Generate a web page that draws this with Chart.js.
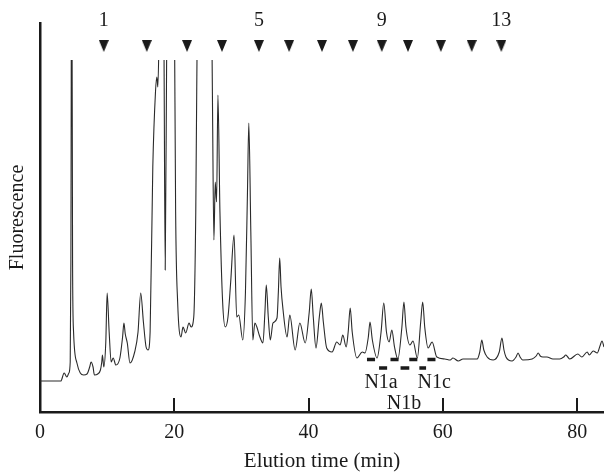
<!DOCTYPE html>
<html>
<head>
<meta charset="utf-8">
<script src="https://cdn.jsdelivr.net/npm/chart.js@4"></script>
<style>
  html, body { margin: 0; padding: 0; background: #fff; }
</style>
</head>
<body>
<canvas id="myChart" width="604" height="475"></canvas>
<script>
// chromatogram trace (time in min, fluorescence in arbitrary units)
var elutionMin = [
  0, 3.1, 3.6, 4.0, 4.3, 4.5, 4.6, 4.72, 4.85, 5.0, 5.5, 6.0, 6.5, 7.0, 7.4, 7.6, 7.9, 8.1, 8.6, 9.0, 9.2, 9.3, 9.5,
  9.8, 10.0, 10.3, 10.6, 10.9, 11.3, 11.9, 12.3, 12.5, 12.7, 13.0, 13.4, 14.1, 14.6, 15.0, 15.4, 15.8, 16.1,
  16.4, 16.8, 17.2, 17.4, 17.55, 17.8, 18.1, 18.45, 18.65, 18.9, 19.5, 20.0, 20.2, 20.5, 21.0, 21.3, 21.7, 22.2, 22.5, 22.9, 23.2,
  23.5, 24.5, 25.5, 25.7, 25.9, 26.1, 26.3, 26.5, 26.8, 27.2, 27.6, 28.0, 28.4, 28.9, 29.3, 29.6, 30.2, 30.6, 30.9, 31.1,
  31.4, 31.7, 32.0, 32.3, 32.7, 33.2, 33.5, 33.7, 34.0, 34.3, 34.7, 35.3, 35.5, 35.7, 35.9, 36.2, 36.8, 37.2, 38.0, 38.7,
  39.5, 40.1, 40.4, 40.7, 41.1, 41.6, 41.9, 42.2, 42.7, 43.5, 44.2, 44.7, 45.1, 45.6, 45.9, 46.2,
  46.5, 47.2, 48.0, 48.4, 48.9, 49.15, 49.5, 50.2, 50.8, 51.2, 51.6, 52.0, 52.4, 52.8, 53.3, 53.9, 54.2, 54.5, 55.1, 55.55,
  56.2, 56.7, 57.0, 57.3, 57.8, 58.4, 59.1, 60.3,
  61.1, 61.5, 62.3, 63.0, 63.6, 65.1, 65.5, 65.8, 66.1, 66.6, 67.5, 68.4, 68.8, 69.1, 69.4, 70.3, 70.9, 71.2, 71.5, 71.9,
  73.3, 73.9, 74.2, 74.5, 74.9, 75.5, 76.4, 77.4, 78.0, 78.3, 78.6, 78.9, 80.1, 80.7, 81.5, 81.8, 82.4, 83.0, 83.4, 83.7, 84.0
];
var fluorescence = [
  31, 31, 39, 35, 39, 50, 150, 520, 150, 80, 49, 39, 37, 38, 45, 50, 45, 37, 38, 42, 50, 57, 45,
  70, 119, 80, 50, 54, 47, 54, 75, 89, 78, 69, 49, 60, 80, 119, 90, 65, 62,
  80, 245, 320, 335, 325, 400, 470, 380, 142, 400, 560, 420, 200, 110, 75, 85, 79, 89, 85, 95, 200,
  450, 620, 450, 300, 172, 230, 210, 317, 200, 110, 85, 95, 130, 177, 95, 97, 72, 120, 220, 289,
  180, 72, 89, 85, 76, 69, 100, 127, 95, 72, 89, 94, 120, 154, 125, 102, 75, 97, 62, 89,
  69, 100, 123, 95, 64, 95, 109, 90, 64, 60, 70, 67, 77, 65, 80, 104,
  80, 54, 60, 59, 75, 90, 72, 54, 80, 109, 80, 70, 82, 65, 53, 85, 110, 85, 67, 71,
  54, 90, 110, 85, 64, 70, 55, 53,
  52, 54, 51, 53, 53, 53, 60, 72, 62, 55, 52, 60, 74, 62, 55, 51, 55, 59, 55, 52,
  53, 56, 59, 56, 55, 55, 53, 53, 55, 57, 55, 53, 58, 55, 60, 57, 61, 59, 66, 71, 65
];

// fraction markers (triangles) along the top
var fractionMin = [9.5, 15.9, 21.9, 27.1, 32.6, 37.1, 42.0, 46.6, 50.9, 54.8, 59.7, 64.3, 68.7];
var fractionLabels = ['1', '', '', '', '5', '', '', '', '9', '', '', '', '13'];
var markerLevel = 366;

// N1a / N1b / N1c collection bars (start, end in min)
var upperBars = [[48.7, 49.9], [52.2, 53.4], [55.0, 56.2], [57.7, 58.9]];
var lowerBars = [[50.5, 51.7], [53.7, 55.0], [56.5, 57.5]];
var upperLevel = 52.5, lowerLevel = 44;
var peakNames = ['N1a', 'N1b', 'N1c'];
var peakNameMin = [50.8, 54.2, 58.7];
var peakNameLevel = [29, 8, 29];

var xTicks = [0, 20, 40, 60, 80];
var xMarks = [20, 40, 60, 80];

var serif = "'Liberation Serif', 'Times New Roman', serif";
var ink = '#1a1a1a';

function barData(bars, level) {
  var out = [];
  bars.forEach(function (b) {
    out.push({x: b[0], y: level}, {x: b[1], y: level}, {x: (b[0] + b[1]) / 2, y: null});
  });
  return out;
}

var tri = document.createElement('canvas');
tri.width = 10; tri.height = 12;
var tctx = tri.getContext('2d');
tctx.fillStyle = ink;
tctx.beginPath(); tctx.moveTo(0, 0); tctx.lineTo(10, 0); tctx.lineTo(5, 12); tctx.closePath(); tctx.fill();

var annotate = {
  id: 'annotate',
  afterDatasetsDraw: function (chart) {
    var ctx = chart.ctx, xs = chart.scales.x, ys = chart.scales.y;
    ctx.save();
    // inward tick marks
    ctx.strokeStyle = ink; ctx.lineWidth = 2;
    xMarks.forEach(function (v) {
      var px = Math.round(xs.getPixelForValue(v));
      ctx.beginPath(); ctx.moveTo(px, ys.bottom); ctx.lineTo(px, ys.bottom - 14); ctx.stroke();
    });
    ctx.fillStyle = ink;
    ctx.font = '20px ' + serif;
    ctx.textAlign = 'center'; ctx.textBaseline = 'middle';
    fractionLabels.forEach(function (t, i) {
      if (t) ctx.fillText(t, xs.getPixelForValue(fractionMin[i]), 21);
    });
    peakNames.forEach(function (t, i) {
      ctx.fillText(t, xs.getPixelForValue(peakNameMin[i]), ys.getPixelForValue(peakNameLevel[i]));
    });
    ctx.restore();
  }
};

var myChart = new Chart(document.getElementById('myChart').getContext('2d'), {
  type: 'line',
  data: {
    datasets: [{
      data: elutionMin.map(function (t, i) { return {x: t, y: fluorescence[i]}; }),
      borderColor: '#2a2a2a',
      borderWidth: 1.1,
      pointRadius: 0,
      cubicInterpolationMode: 'monotone',
      clip: {left: 0, top: -37, right: 0, bottom: 0}
    }, {
      data: fractionMin.map(function (t) { return {x: t, y: markerLevel}; }),
      showLine: false,
      pointStyle: tri,
      pointRadius: 6,
      clip: false
    }, {
      data: barData(upperBars, upperLevel),
      borderColor: ink, borderWidth: 3.5, pointRadius: 0, spanGaps: false
    }, {
      data: barData(lowerBars, lowerLevel),
      borderColor: ink, borderWidth: 3.5, pointRadius: 0, spanGaps: false
    }]
  },
  options: {
    responsive: false,
    animation: false,
    layout: {autoPadding: false, padding: {top: 23, left: 0, right: 0, bottom: 0}},
    plugins: {legend: {display: false}, tooltip: {enabled: false}},
    scales: {
      x: {
        type: 'linear', min: 0, max: 84,
        grid: {display: false, drawTicks: false},
        border: {color: ink, width: 2.5},
        ticks: {font: {family: serif, size: 20}, color: ink, padding: 9},
        afterBuildTicks: function (s) { s.ticks = xTicks.map(function (v) { return {value: v}; }); },
        afterFit: function (s) { s.height = 63; s.paddingLeft = 0; s.paddingRight = 0; },
        title: {display: true, text: 'Elution time (min)', color: ink,
                font: {family: serif, size: 21}, padding: {top: 0, bottom: 1}}
      },
      y: {
        min: 0, max: 389,
        grid: {display: false, drawTicks: false},
        border: {color: ink, width: 2.5},
        ticks: {display: false},
        afterFit: function (s) { s.width = 40; },
        title: {display: true, text: 'Fluorescence', color: ink,
                font: {family: serif, size: 20}, padding: {top: 6, bottom: 0}}
      }
    }
  },
  plugins: [annotate]
});
</script>
</body>
</html>
